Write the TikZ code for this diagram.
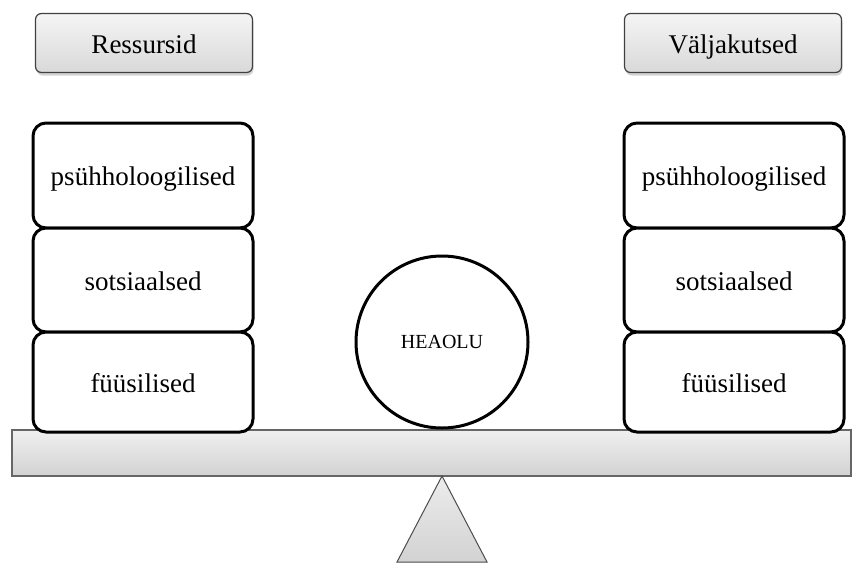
\documentclass[tikz,border=0pt]{standalone}
\usepackage{fontspec}
\setmainfont{Liberation Serif}
\usetikzlibrary{shadows}
\begin{document}
\begin{tikzpicture}[x=1pt,y=-1pt,
  hdr/.style={draw=black!75, line width=1.2pt, rounded corners=6pt, top color=gray!8, bottom color=gray!30,
    drop shadow={shadow xshift=1pt, shadow yshift=-3pt, opacity=0.35},
    minimum width=217pt, minimum height=59pt, font=\fontsize{27}{30}\selectfont, inner sep=0pt,
    text height=24pt, text depth=4pt},
  stackbox/.style={draw=black, line width=3pt, rounded corners=13pt, fill=white,
    minimum width=220pt, font=\fontsize{27}{30}\selectfont, inner sep=0pt,
    text height=24pt, text depth=4pt},
  beamstyle/.style={draw=black!60, line width=1.6pt, top color=gray!12, bottom color=gray!35,
    minimum width=839pt, minimum height=46pt, inner sep=0pt},
  fulcrum/.style={draw=black!70, line width=1pt, top color=gray!15, bottom color=gray!35},
  ball/.style={circle, draw=black, line width=3pt, fill=white, minimum size=172pt, inner sep=0pt,
    font=\fontsize{20}{22}\selectfont}
]
\useasboundingbox (0,0) rectangle (861,562);
% headers
\node[hdr] (res) at (144,43) {Ressursid};
\node[hdr] (val) at (733,43) {Väljakutsed};
% beam
\node[beamstyle] (beam) at (431.5,453) {};
% fulcrum
\coordinate (apex) at (442,476);
\draw[fulcrum] (apex) -- ++(-45,86) -- ++(90,0) -- cycle;
% left stack
\node[stackbox, minimum height=105pt] (l1) at (143,175.5) {psühholoogilised};
\node[stackbox, minimum height=104pt] (l2) at (143,280) {sotsiaalsed};
\node[stackbox, minimum height=100pt] (l3) at (143,382) {füüsilised};
% right stack
\node[stackbox, minimum height=105pt] (r1) at (734,175.5) {psühholoogilised};
\node[stackbox, minimum height=104pt] (r2) at (734,280) {sotsiaalsed};
\node[stackbox, minimum height=100pt] (r3) at (734,382) {füüsilised};
% ball
\node[ball] (heaolu) at (442,342) {HEAOLU};
\end{tikzpicture}
\end{document}
